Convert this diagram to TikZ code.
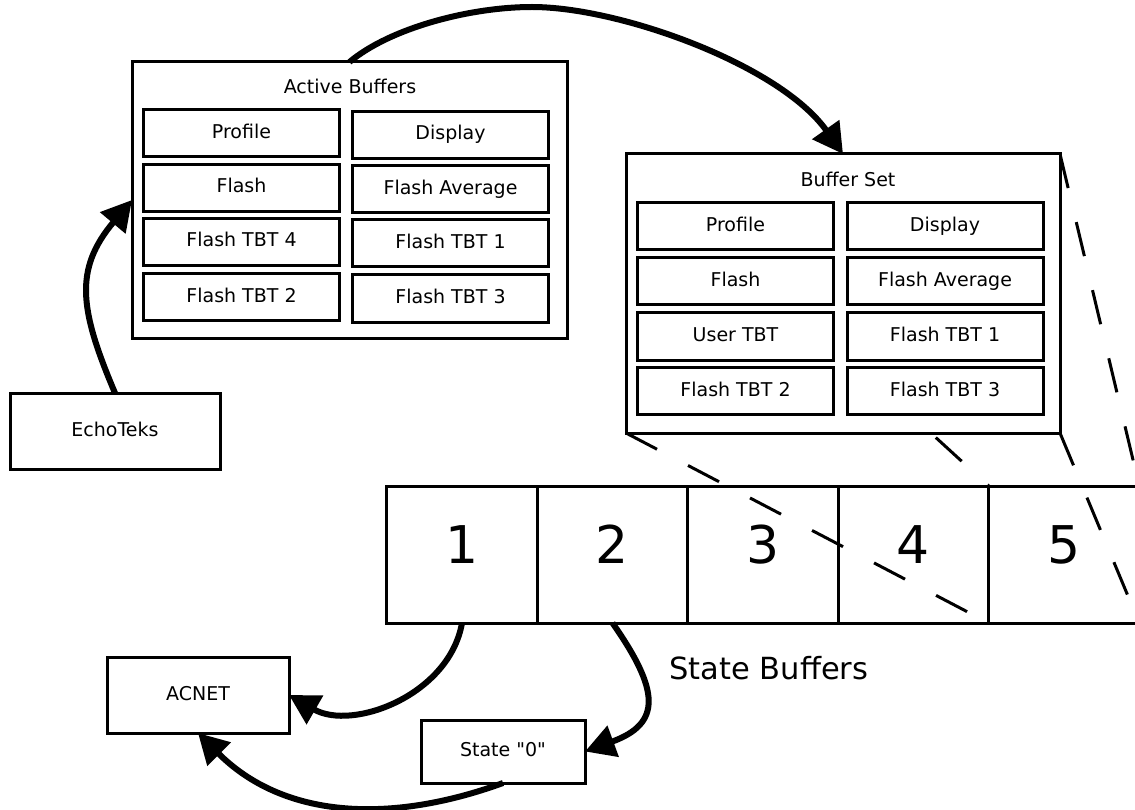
\documentclass[tikz,border=0pt]{standalone}
\usepackage{fontspec}
\setmainfont[Ligatures=TeXOff]{DejaVu Sans}
\usetikzlibrary{arrows.meta,backgrounds}

\begin{document}
\begin{tikzpicture}[x=1pt,y=-1pt,
  box/.style={draw,line width=3pt,fill=white,outer sep=0pt,inner sep=0pt,
    font=\fontsize{19}{22}\selectfont,text height=14pt,text depth=4pt},
  slot/.style={box,minimum width=196pt,minimum height=47pt},
  statebox/.style={box,fill=none,minimum width=150.5pt,minimum height=137pt,
    font=\fontsize{52}{60}\selectfont,text height=38pt,text depth=20pt},
  flow/.style={line width=6pt,-{Triangle[length=30pt,width=32pt]}},
  guide/.style={line width=3pt,dash pattern=on 35pt off 35pt}]
\useasboundingbox (0,0) rectangle (1135,810);

% state buffers
\foreach \i in {1,...,5}
  \node[statebox] (sb\i) at ({311.5+150.5*\i},554.5) {\i};
\node[anchor=base,font=\fontsize{30.5}{36}\selectfont] (sblabel) at (769,679) {State Buffers};

% buffer set
\node[box,minimum width=434pt,minimum height=279pt] (bs) at (843,293.5) {};
\node[anchor=base,font=\fontsize{19}{22}\selectfont] (bstitle) at (848,187) {Buffer Set};
\node[slot] (bs-prof)  at (735.5,226.5) {Profile};
\node[slot] (bs-disp)  at (945,226.5)   {Display};
\node[slot] (bs-flash) at (735.5,281.5) {Flash};
\node[slot] (bs-avg)   at (945,281.5)   {Flash Average};
\node[slot] (bs-user)  at (735.5,336.5) {User TBT};
\node[slot] (bs-tbt1)  at (945,336.5)   {Flash TBT 1};
\node[slot] (bs-tbt2)  at (735.5,391)   {Flash TBT 2};
\node[slot] (bs-tbt3)  at (945,391)     {Flash TBT 3};

\begin{scope}[on background layer]
  \draw[guide] (bs.north west) -- (sb5.north west);
  \draw[guide] (bs.south west) -- (sb5.south west);
  \draw[guide] (bs.north east) -- (sb5.north east);
  \draw[guide] (bs.south east) -- (sb5.south east);
\end{scope}

% active buffers
\node[box,minimum width=435pt,minimum height=276pt] (ab) at (349.5,200) {};
\node[anchor=base,font=\fontsize{19}{22}\selectfont] (abtitle) at (350,94) {Active Buffers};
\node[slot] (ab-prof)  at (241.5,133.5) {Profile};
\node[slot] (ab-disp)  at (450.5,135)   {Display};
\node[slot] (ab-flash) at (241.5,188)   {Flash};
\node[slot] (ab-avg)   at (450.5,189.5) {Flash Average};
\node[slot] (ab-tbt4)  at (241.5,242)   {Flash TBT 4};
\node[slot] (ab-tbt1)  at (450.5,243.5) {Flash TBT 1};
\node[slot] (ab-tbt2)  at (241.5,297)   {Flash TBT 2};
\node[slot] (ab-tbt3)  at (450.5,298.5) {Flash TBT 3};

% sources and sinks
\node[box,minimum width=210pt,minimum height=76pt] (echo)  at (115,431)   {EchoTeks};
\node[box,minimum width=182pt,minimum height=76pt] (acnet) at (198,695)   {ACNET};
\node[box,minimum width=164pt,minimum height=63pt] (zero)  at (503,751.5) {State "0"};

% data flow
\coordinate (apex) at (532,7);
\draw[flow] (echo.north) to[out=113,in=230,looseness=1.2] (ab.west);
\draw[flow] (ab.north) .. controls (390,28) and (470,7) .. (apex)
  .. controls (620,7) and (780,65) .. (bs.north);
\draw[flow] (sb1.south) to[out=-100,in=-30] (acnet.east);
\draw[flow] (sb2.south) to[out=-55,in=20,looseness=1.6] (zero.east);
\draw[flow] (zero.south) to[out=-160,in=-45] (acnet.south);
\end{tikzpicture}
\end{document}
